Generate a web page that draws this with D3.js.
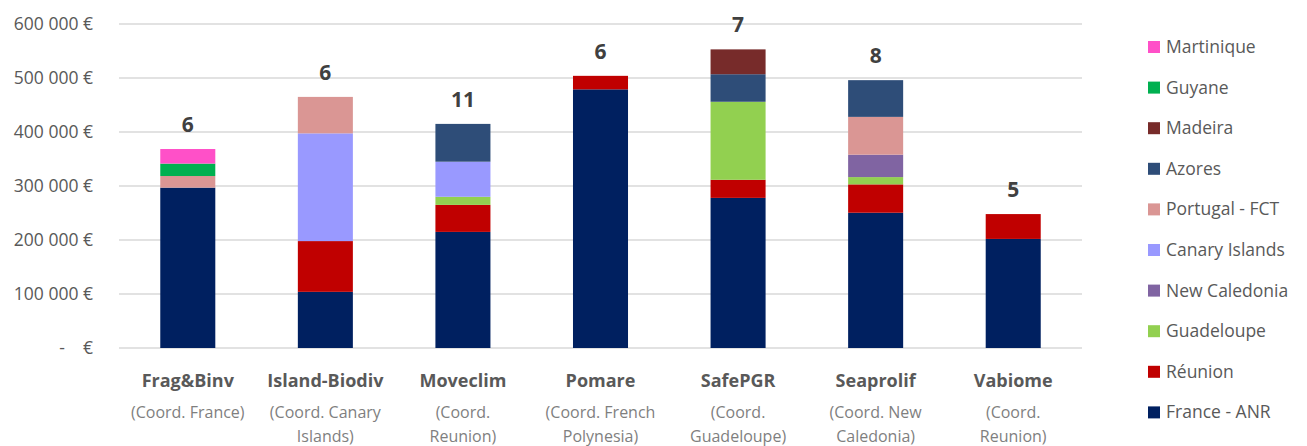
<!DOCTYPE html>
<html>
<head>
<meta charset="utf-8">
<script src="https://cdn.jsdelivr.net/npm/d3@7"></script>
<style>
  html, body { margin: 0; padding: 0; background: #fff; }
  svg text { font-family: "Open Sans", "Liberation Sans", sans-serif; }
</style>
</head>
<body>
<svg id="chart" width="1307" height="446"></svg>
<script>
// Projects and their coordination
const projects = ["Frag&Binv", "Island-Biodiv", "Moveclim", "Pomare", "SafePGR", "Seaprolif", "Vabiome"];
const coordination = [
  ["(Coord. France)"],
  ["(Coord. Canary", "Islands)"],
  ["(Coord.", "Reunion)"],
  ["(Coord. French", "Polynesia)"],
  ["(Coord.", "Guadeloupe)"],
  ["(Coord. New", "Caledonia)"],
  ["(Coord.", "Reunion)"]
];
// Number of partners per project
const partners = [6, 6, 11, 6, 7, 8, 5];

// Funding per funder (€), stacked bottom to top
const funders = ["France - ANR", "Réunion", "Guadeloupe", "New Caledonia", "Canary Islands",
                 "Portugal - FCT", "Azores", "Madeira", "Guyane", "Martinique"];
const franceANR     = [297000, 104000, 215000, 479000, 278000, 250500, 202000];
const reunion       = [0, 94000, 50000, 25000, 33500, 52500, 46000];
const guadeloupe    = [0, 0, 15000, 0, 144500, 13500, 0];
const newCaledonia  = [0, 0, 0, 0, 0, 41500, 0];
const canaryIslands = [0, 199500, 65000, 0, 0, 0, 0];
const portugalFCT   = [21500, 67500, 0, 0, 0, 70000, 0];
const azores        = [0, 0, 70000, 0, 51000, 68000, 0];
const madeira       = [0, 0, 0, 0, 46000, 0, 0];
const guyane        = [23000, 0, 0, 0, 0, 0, 0];
const martinique    = [27000, 0, 0, 0, 0, 0, 0];

const yTicks = [0, 100000, 200000, 300000, 400000, 500000, 600000];

const seriesValues = [franceANR, reunion, guadeloupe, newCaledonia, canaryIslands,
                      portugalFCT, azores, madeira, guyane, martinique];
const colors = ["#002060", "#C00000", "#92D050", "#8064A2", "#9999FF",
                "#DA9694", "#2E4D78", "#772B2A", "#00B050", "#FF50C8"];

const rows = projects.map((p, i) => {
  const r = { project: p };
  funders.forEach((f, k) => { r[f] = seriesValues[k][i]; });
  return r;
});

const svg = d3.select("#chart");
const x = d3.scaleBand().domain(projects).range([119, 1082]).paddingInner(0.6).paddingOuter(0.3);
const y = d3.scaleLinear().domain([0, 600000]).range([348, 24]);
const color = d3.scaleOrdinal().domain(funders).range(colors);

// Gridlines and y labels
const fmt = v => v === 0 ? "-\u00A0\u00A0\u00A0\u00A0€" : d3.format(",")(v).replace(/,/g, " ") + " €";
const yAxis = d3.axisLeft(y).tickValues(yTicks).tickFormat(fmt).tickSize(0).tickPadding(0);
const gAxis = svg.append("g").attr("transform", "translate(93,0)").call(yAxis);
gAxis.select(".domain").remove();
gAxis.selectAll("text").attr("fill", "#595959").attr("font-size", 17.5).attr("x", 0);

svg.append("g").selectAll("line").data(yTicks).join("line")
  .attr("x1", 119).attr("x2", 1082)
  .attr("y1", d => y(d)).attr("y2", d => y(d))
  .attr("stroke", "#d9d9d9").attr("stroke-width", 1.5);

// Stacked bars
const stack = d3.stack().keys(funders)(rows);
svg.append("g").selectAll("g").data(stack).join("g")
  .attr("fill", d => color(d.key))
  .selectAll("rect").data(d => d).join("rect")
  .attr("x", d => x(d.data.project))
  .attr("width", x.bandwidth())
  .attr("y", d => y(d[1]))
  .attr("height", d => y(d[0]) - y(d[1]));

// Partner counts above bars
const totals = rows.map(r => d3.sum(funders, f => r[f]));
svg.append("g").selectAll("text").data(projects).join("text")
  .attr("x", d => x(d) + x.bandwidth() / 2)
  .attr("y", (d, i) => y(totals[i]) - 17)
  .attr("text-anchor", "middle")
  .attr("font-size", 21).attr("font-weight", "bold").attr("fill", "#404040")
  .text((d, i) => partners[i]);

// Category labels
const gCat = svg.append("g");
projects.forEach((p, i) => {
  const cx = x(p) + x.bandwidth() / 2;
  gCat.append("text").attr("x", cx).attr("y", 387).attr("text-anchor", "middle")
    .attr("font-size", 18).attr("font-weight", "bold").attr("fill", "#595959").text(p);
  coordination[i].forEach((line, j) => {
    gCat.append("text").attr("x", cx).attr("y", 418 + j * 24).attr("text-anchor", "middle")
      .attr("font-size", 16).attr("fill", "#7f7f7f").text(line);
  });
});

// Legend, top entry is the last stacked series
const legendOrder = funders.slice().reverse();
const gLeg = svg.append("g");
legendOrder.forEach((f, i) => {
  const cy = 47 + i * 40.6;
  gLeg.append("rect").attr("x", 1148).attr("y", cy - 6).attr("width", 12).attr("height", 12).attr("fill", color(f));
  gLeg.append("text").attr("x", 1166).attr("y", cy + 6).attr("font-size", 17.5).attr("fill", "#595959").text(f);
});
</script>
</body>
</html>
